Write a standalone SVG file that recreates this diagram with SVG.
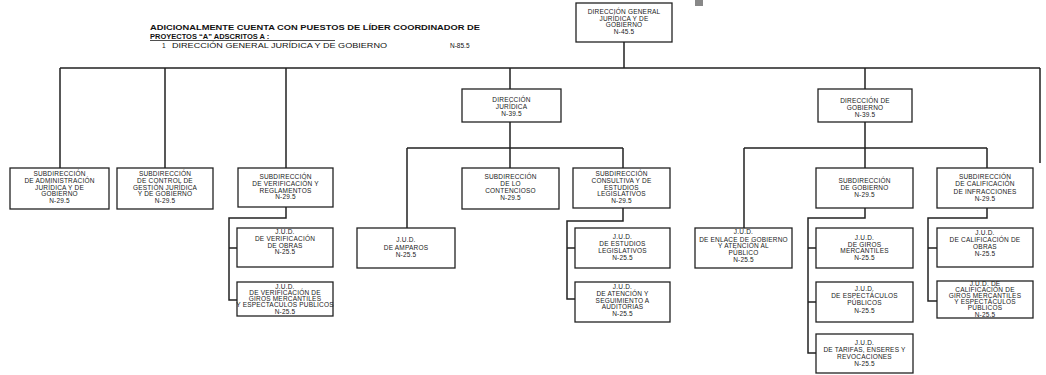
<svg xmlns="http://www.w3.org/2000/svg" width="1046" height="375" viewBox="0 0 1046 375">
<style>
.b{fill:#fff;stroke:#222;stroke-width:1.3}
.t{font-family:"Liberation Sans",Arial,sans-serif;font-size:6.5px;letter-spacing:0.2px;fill:#1a1a1a;text-anchor:middle}
.h{font-family:"Liberation Sans",Arial,sans-serif;fill:#111}
.c{fill:none;stroke:#222;stroke-width:1.5}
</style>
<rect x="0" y="0" width="1046" height="375" fill="#fff"/>
<rect x="695" y="0" width="8" height="6" fill="#888"/>
<g id="header">
<text class="h" x="150" y="30" font-size="7.5" font-weight="bold" textLength="330" lengthAdjust="spacingAndGlyphs">ADICIONALMENTE CUENTA CON PUESTOS DE LÍDER COORDINADOR DE</text>
<text class="h" x="150" y="38.5" font-size="7.5" font-weight="bold">PROYECTOS “A” ADSCRITOS A :</text>
<line x1="150" y1="40.5" x2="335" y2="40.5" stroke="#222" stroke-width="0.8"/>
<text class="h" x="162" y="47.5" font-size="6.5">1</text>
<text class="h" x="172" y="47.5" font-size="6.5" textLength="215" lengthAdjust="spacingAndGlyphs">DIRECCIÓN GENERAL JURÍDICA Y DE GOBIERNO</text>
<text class="h" x="450" y="47.5" font-size="6.5">N-85.5</text>
</g>
<g id="connectors">
<path class="c" d="M624 42V68M60 68H1040M60 68V168M165 68V168M286 68V168M510 68V89M865 68V89M1040 68V163"/>
<path class="c" d="M510 122V148M407 148H623M407 148V228M510 148V168M623 148V168"/>
<path class="c" d="M865 122V148M744 148H987M744 148V228M865 148V168M987 148V168"/>
<path class="c" d="M286 207V218H229V300H237M229 248H237"/>
<path class="c" d="M623 208V221H567V299H575M567 248H575"/>
<path class="c" d="M865 208V218H808V353H816M808 248H816M808 302H816"/>
<path class="c" d="M987 208V218H928V301H937M928 248H937"/>
</g>
<g id="n-dgjg"><rect class="b" x="576" y="3" width="96" height="39"/>
<text class="t"><tspan x="624" y="14">DIRECCIÓN GENERAL</tspan><tspan x="624" y="20.7">JURÍDICA Y DE</tspan><tspan x="624" y="27.4">GOBIERNO</tspan><tspan x="624" y="34.1">N-45.5</tspan></text></g>
<g id="n-dj"><rect class="b" x="462" y="89" width="99" height="33"/>
<text class="t"><tspan x="511.5" y="102">DIRECCIÓN</tspan><tspan x="511.5" y="109">JURÍDICA</tspan><tspan x="511.5" y="116">N-39.5</tspan></text></g>
<g id="n-dg"><rect class="b" x="818" y="89" width="94" height="33"/>
<text class="t"><tspan x="865" y="102.5">DIRECCIÓN DE</tspan><tspan x="865" y="109.5">GOBIERNO</tspan><tspan x="865" y="116.5">N-39.5</tspan></text></g>
<g id="n-sadm"><rect class="b" x="10" y="168" width="99" height="41"/>
<text class="t"><tspan x="59.5" y="176">SUBDIRECCIÓN</tspan><tspan x="59.5" y="182.8">DE ADMINISTRACIÓN</tspan><tspan x="59.5" y="189.6">JURÍDICA Y DE</tspan><tspan x="59.5" y="196.4">GOBIERNO</tspan><tspan x="59.5" y="203.2">N-29.5</tspan></text></g>
<g id="n-sctl"><rect class="b" x="117" y="168" width="96" height="41"/>
<text class="t"><tspan x="165" y="176">SUBDIRECCIÓN</tspan><tspan x="165" y="182.8">DE CONTROL DE</tspan><tspan x="165" y="189.6">GESTIÓN JURÍDICA</tspan><tspan x="165" y="196.4">Y DE GOBIERNO</tspan><tspan x="165" y="203.2">N-29.5</tspan></text></g>
<g id="n-sver"><rect class="b" x="238" y="168" width="95" height="39"/>
<text class="t"><tspan x="285.5" y="179">SUBDIRECCIÓN</tspan><tspan x="285.5" y="185.8">DE VERIFICACIÓN Y</tspan><tspan x="285.5" y="192.6">REGLAMENTOS</tspan><tspan x="285.5" y="199.4">N-29.5</tspan></text></g>
<g id="n-jvo"><rect class="b" x="237" y="228" width="96" height="39"/>
<text class="t"><tspan x="285" y="234">J.U.D.</tspan><tspan x="285" y="240.8">DE VERIFICACIÓN</tspan><tspan x="285" y="247.6">DE OBRAS</tspan><tspan x="285" y="254.4">N-25.5</tspan></text></g>
<g id="n-jvg"><rect class="b" x="237" y="282" width="96" height="34"/>
<text class="t"><tspan x="285" y="288.5">J.U.D.</tspan><tspan x="285" y="294.8">DE VERIFICACIÓN DE</tspan><tspan x="285" y="301.1">GIROS MERCANTILES</tspan><tspan x="285" y="307.4">Y ESPECTACULOS PUBLICOS</tspan><tspan x="285" y="313.7">N-25.5</tspan></text></g>
<g id="n-jamp"><rect class="b" x="357" y="228" width="98" height="40"/>
<text class="t"><tspan x="406" y="242">J.U.D.</tspan><tspan x="406" y="249.5">DE AMPAROS</tspan><tspan x="406" y="257">N-25.5</tspan></text></g>
<g id="n-scont"><rect class="b" x="462" y="168" width="97" height="41"/>
<text class="t"><tspan x="510.5" y="179">SUBDIRECCIÓN</tspan><tspan x="510.5" y="186">DE LO</tspan><tspan x="510.5" y="193">CONTENCIOSO</tspan><tspan x="510.5" y="200">N-29.5</tspan></text></g>
<g id="n-scons"><rect class="b" x="573" y="168" width="97" height="40"/>
<text class="t"><tspan x="621.5" y="176">SUBDIRECCIÓN</tspan><tspan x="621.5" y="182.8">CONSULTIVA Y DE</tspan><tspan x="621.5" y="189.6">ESTUDIOS</tspan><tspan x="621.5" y="196.4">LEGISLATIVOS</tspan><tspan x="621.5" y="203.2">N-29.5</tspan></text></g>
<g id="n-jest"><rect class="b" x="575" y="228" width="95" height="40"/>
<text class="t"><tspan x="622.5" y="239">J.U.D.</tspan><tspan x="622.5" y="246">DE ESTUDIOS</tspan><tspan x="622.5" y="253">LEGISLATIVOS</tspan><tspan x="622.5" y="260">N-25.5</tspan></text></g>
<g id="n-jaten"><rect class="b" x="575" y="282" width="95" height="40"/>
<text class="t"><tspan x="622.5" y="289">J.U.D.</tspan><tspan x="622.5" y="295.8">DE ATENCIÓN Y</tspan><tspan x="622.5" y="302.6">SEGUIMIENTO A</tspan><tspan x="622.5" y="309.4">AUDITORIAS</tspan><tspan x="622.5" y="316.2">N-25.5</tspan></text></g>
<g id="n-jenl"><rect class="b" x="695" y="228" width="97" height="40"/>
<text class="t"><tspan x="743.5" y="234">J.U.D.</tspan><tspan x="743.5" y="241.5">DE ENLACE DE GOBIERNO</tspan><tspan x="743.5" y="248.3">Y ATENCIÓN AL</tspan><tspan x="743.5" y="255.1">PÚBLICO</tspan><tspan x="743.5" y="261.9">N-25.5</tspan></text></g>
<g id="n-sgob"><rect class="b" x="816" y="168" width="97" height="40"/>
<text class="t"><tspan x="864.5" y="183">SUBDIRECCIÓN</tspan><tspan x="864.5" y="190">DE GOBIERNO</tspan><tspan x="864.5" y="197">N-29.5</tspan></text></g>
<g id="n-jgir"><rect class="b" x="816" y="228" width="97" height="40"/>
<text class="t"><tspan x="864.5" y="240">J.U.D.</tspan><tspan x="864.5" y="246.5">DE GIROS</tspan><tspan x="864.5" y="253">MERCANTILES</tspan><tspan x="864.5" y="259.5">N-25.5</tspan></text></g>
<g id="n-jesp"><rect class="b" x="816" y="282" width="97" height="40"/>
<text class="t"><tspan x="864.5" y="291">J.U.D.</tspan><tspan x="864.5" y="298.2">DE ESPECTÁCULOS</tspan><tspan x="864.5" y="305.4">PÚBLICOS</tspan><tspan x="864.5" y="312.6">N-25.5</tspan></text></g>
<g id="n-jtar"><rect class="b" x="816" y="334" width="97" height="39"/>
<text class="t"><tspan x="864.5" y="345">J.U.D.</tspan><tspan x="864.5" y="352">DE TARIFAS, ENSERES Y</tspan><tspan x="864.5" y="359">REVOCACIONES</tspan><tspan x="864.5" y="366">N-25.5</tspan></text></g>
<g id="n-scal"><rect class="b" x="937" y="168" width="96" height="40"/>
<text class="t"><tspan x="985" y="179">SUBDIRECCIÓN</tspan><tspan x="985" y="186.3">DE CALIFICACIÓN</tspan><tspan x="985" y="193.6">DE INFRACCIONES</tspan><tspan x="985" y="200.9">N-29.5</tspan></text></g>
<g id="n-jcob"><rect class="b" x="937" y="228" width="96" height="39"/>
<text class="t"><tspan x="985" y="234.5">J.U.D.</tspan><tspan x="985" y="241.5">DE CALIFICACIÓN DE</tspan><tspan x="985" y="248.5">OBRAS</tspan><tspan x="985" y="255.5">N-25.5</tspan></text></g>
<g id="n-jcgi"><rect class="b" x="937" y="281" width="96" height="37"/>
<text class="t"><tspan x="985" y="285.5">J.U.D. DE</tspan><tspan x="985" y="291.7">CALIFICACIÓN DE</tspan><tspan x="985" y="297.9">GIROS MERCANTILES</tspan><tspan x="985" y="304.1">Y ESPECTÁCULOS</tspan><tspan x="985" y="310.3">PÚBLICOS</tspan><tspan x="985" y="316.5">N-25.5</tspan></text></g>
</svg>
